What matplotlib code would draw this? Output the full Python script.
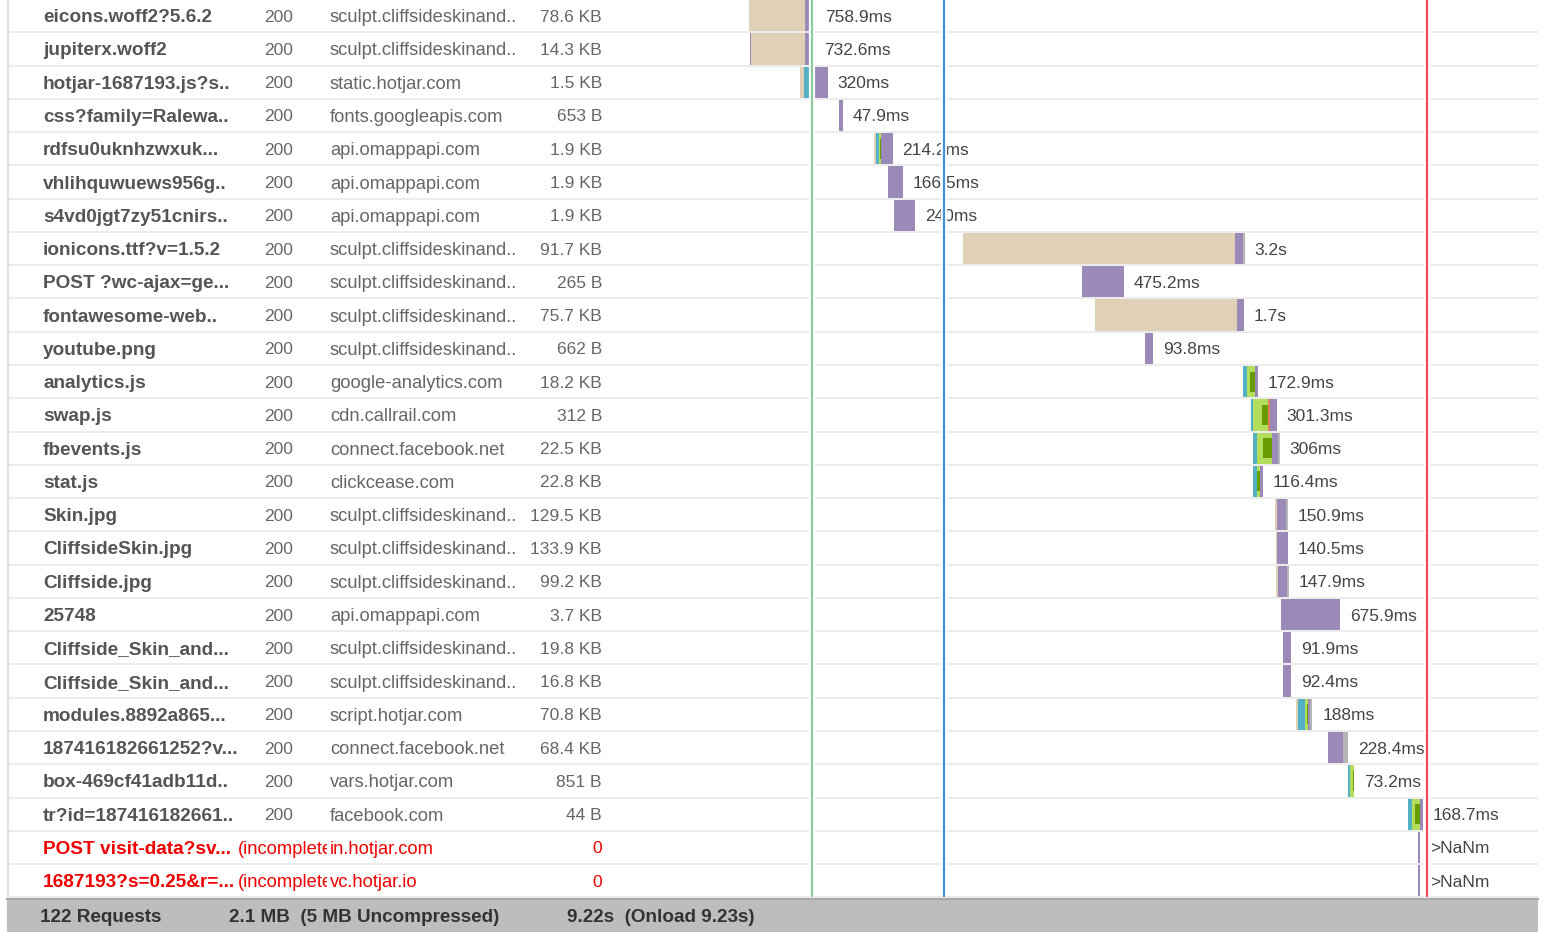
import matplotlib
matplotlib.use('Agg')
import matplotlib.pyplot as plt
from matplotlib.patches import Rectangle
from matplotlib.transforms import Bbox, TransformedBbox

plt.rcParams['font.family'] = ['Liberation Sans', 'DejaVu Sans']

# ---------------- data ----------------
names = ['eicons.woff2?5.6.2', 'jupiterx.woff2', 'hotjar-1687193.js?s..', 'css?family=Ralewa..',
         'rdfsu0uknhzwxuk...', 'vhlihquwuews956g..', 's4vd0jgt7zy51cnirs..', 'ionicons.ttf?v=1.5.2',
         'POST ?wc-ajax=ge...', 'fontawesome-web..', 'youtube.png', 'analytics.js', 'swap.js',
         'fbevents.js', 'stat.js', 'Skin.jpg', 'CliffsideSkin.jpg', 'Cliffside.jpg', '25748',
         'Cliffside_Skin_and...', 'Cliffside_Skin_and...', 'modules.8892a865...',
         '187416182661252?v...', 'box-469cf41adb11d..', 'tr?id=187416182661..',
         'POST visit-data?sv...', '1687193?s=0.25&r=...']
statuses = ['200'] * 25 + ['(incomplete', '(incomplete']
domains = ['sculpt.cliffsideskinand..', 'sculpt.cliffsideskinand..', 'static.hotjar.com',
           'fonts.googleapis.com', 'api.omappapi.com', 'api.omappapi.com', 'api.omappapi.com',
           'sculpt.cliffsideskinand..', 'sculpt.cliffsideskinand..', 'sculpt.cliffsideskinand..',
           'sculpt.cliffsideskinand..', 'google-analytics.com', 'cdn.callrail.com',
           'connect.facebook.net', 'clickcease.com', 'sculpt.cliffsideskinand..',
           'sculpt.cliffsideskinand..', 'sculpt.cliffsideskinand..', 'api.omappapi.com',
           'sculpt.cliffsideskinand..', 'sculpt.cliffsideskinand..', 'script.hotjar.com',
           'connect.facebook.net', 'vars.hotjar.com', 'facebook.com', 'in.hotjar.com', 'vc.hotjar.io']
sizes = ['78.6 KB', '14.3 KB', '1.5 KB', '653 B', '1.9 KB', '1.9 KB', '1.9 KB', '91.7 KB', '265 B',
         '75.7 KB', '662 B', '18.2 KB', '312 B', '22.5 KB', '22.8 KB', '129.5 KB', '133.9 KB',
         '99.2 KB', '3.7 KB', '19.8 KB', '16.8 KB', '70.8 KB', '68.4 KB', '851 B', '44 B', '0', '0']
incomplete = [False] * 25 + [True, True]
timing_labels = ['758.9ms', '732.6ms', '320ms', '47.9ms', '214.2ms', '166.5ms', '240ms', '3.2s',
                 '475.2ms', '1.7s', '93.8ms', '172.9ms', '301.3ms', '306ms', '116.4ms', '150.9ms',
                 '140.5ms', '147.9ms', '675.9ms', '91.9ms', '92.4ms', '188ms', '228.4ms', '73.2ms',
                 '168.7ms', '>NaNm', '>NaNm']

# request start times (ms) and phase durations (ms)
start_ms = [1495, 1507, 2078, 2523, 2922, 3082, 3151, 3938, 5297, 5445, 6016, 7135, 7223, 7249,
            7249, 7500, 7508, 7508, 7568, 7591, 7591, 7740, 8105, 8333, 9018, 9132, 9132]
lead_ms = [0, 15, 0, 0, 0, 0, 0, 0, 0, 0, 0, 0, 0, 0, 0, 0, 0, 0, 0, 0, 0, 0, 0, 0, 0, 0, 0]
blocked_ms = [645, 607, 46, 0, 23, 0, 0, 3105, 0, 1621, 0, 0, 0, 0, 0, 19, 15, 23, 0, 0, 0, 23,
              0, 0, 0, 0, 0]
dns_ms = [0, 0, 80, 0, 31, 0, 0, 0, 0, 0, 0, 46, 26, 46, 46, 0, 0, 0, 0, 0, 0, 85, 0, 23, 46, 0, 0]
connect_ms = [0, 0, 0, 0, 30, 0, 0, 0, 0, 0, 0, 91, 171, 169, 34, 0, 0, 0, 0, 0, 0, 34, 0, 50, 91,
              0, 0]
ssl_ms = [0, 0, 0, 0, 15, 0, 0, 0, 0, 0, 0, 57, 68, 103, 30, 0, 0, 0, 0, 0, 0, 11, 0, 11, 57, 0, 0]
send_ms = [0, 0, 45, 0, 0, 0, 0, 0, 0, 0, 0, 0, 23, 0, 0, 0, 0, 0, 0, 0, 0, 0, 0, 0, 0, 0, 0]
wait_ms = [68, 110, 149, 47.9, 130, 166.5, 240, 95, 475.2, 80, 93.8, 36, 81, 68, 36, 110, 125.5,
           110, 675.9, 91.9, 92.4, 23, 171, 0, 32, 23, 23]
receive_ms = [46, 0, 0, 0, 0, 0, 0, 19, 0, 0, 0, 0, 0, 23, 0, 22, 0, 15, 0, 0, 0, 23, 57, 0, 0, 0, 0]

marker_ms = [2215, 3721, 9230]            # start render, DOMContentLoaded, onload
marker_colors = ['#8ec9a2', '#3b95dc', '#f04a58']

footer_texts = ['122 Requests', '2.1 MB  (5 MB Uncompressed)', '9.22s  (Onload 9.23s)']

# ---------------- layout ----------------
W, H = 1543, 932
T0_PX, PX_PER_MS = 618.0, 0.0876
ROW0_PX, ROW_PX = 15.67, 33.27
n = len(names)

fig = plt.figure(figsize=(W / 100, H / 100), dpi=100)
fig.patch.set_facecolor('white')

y_top = -ROW0_PX / ROW_PX
y_bot = (H - ROW0_PX) / ROW_PX

# table axis (x in pixels)
tab = fig.add_axes([0, 0, 1, 1])
tab.set_xlim(0, W)
tab.set_ylim(y_bot, y_top)
tab.axis('off')
tab.set_zorder(0)

# waterfall axis (x in ms)
ax = fig.add_axes([0, 0, 1, 1])
ax.set_xlim(-T0_PX / PX_PER_MS, (W - T0_PX) / PX_PER_MS)
ax.set_ylim(y_bot, y_top)
ax.axis('off')
ax.patch.set_alpha(0)
ax.set_zorder(1)

# row separators
for k in range(n):
    tab.plot([8, 1538], [k + 0.5, k + 0.5], color='#ececec', lw=1.5, solid_capstyle='butt', zorder=1)
tab.plot([8, 8], [y_top, n - 0.5], color='#dcdcdc', lw=1.2, zorder=1)

# table text
FS = 12.5
for k in range(n):
    red = incomplete[k]
    c_name = '#f00000' if red else '#555555'
    c_txt = '#f00000' if red else '#666666'
    tab.text(43, k, names[k], fontsize=13.7, fontweight='bold', color=c_name,
             va='center_baseline', ha='left', zorder=3)
    t = tab.text(264 if not red else 238, k, statuses[k], fontsize=FS if not red else 13.2,
                 color=c_txt, va='center_baseline', ha='left', zorder=3)
    if red:
        t.set_clip_box(TransformedBbox(Bbox.from_extents(230, k - 0.5, 327, k + 0.5), tab.transData))
        t.set_clip_on(True)
    tab.text(330, k, domains[k], fontsize=13.2, color=c_txt, va='center_baseline', ha='left', zorder=3)
    tab.text(602, k, sizes[k], fontsize=FS, color=c_txt, va='center_baseline', ha='right', zorder=3)

# footer
tab.add_patch(Rectangle((7, n - 0.46), 1531, 3, facecolor='#bdbdbd', edgecolor='none', zorder=2))
tab.plot([7, 1538], [n - 0.46, n - 0.46], color='#a9a9a9', lw=1.5, zorder=3)
for xp, s in zip([40, 229, 567], footer_texts):
    tab.text(xp, n + 0.04, s, fontsize=13.6, fontweight='bold', color='#333333',
             va='center_baseline', ha='left', zorder=4)

# waterfall bars
phase_list = [('lead', lead_ms, '#9b8ab8'), ('blocked', blocked_ms, '#e0d0b7'),
              ('dns', dns_ms, '#52b2c4'), ('connect', connect_ms, '#b3de5c'),
              ('send', send_ms, '#e27e62'), ('wait', wait_ms, '#9b8ab8'),
              ('receive', receive_ms, '#b6b6b6')]
BAR_H = 0.94
for k in range(n):
    left = start_ms[k]
    connect_end = None
    for pname, vals, col in phase_list:
        d = vals[k]
        if d > 0:
            ax.barh(k, d, left=left, height=BAR_H, color=col, edgecolor='none', zorder=2)
        left += d
        if pname == 'connect':
            connect_end = left
    if ssl_ms[k] > 0:
        ax.barh(k, ssl_ms[k], left=connect_end - ssl_ms[k], height=0.6, color='#689a02',
                edgecolor='none', zorder=3)
    ax.annotate(timing_labels[k], xy=(left, k), xytext=(7.0, 0), textcoords='offset points',
                fontsize=FS, color='#444444', va='center_baseline', ha='left', zorder=4)

# timing markers with white halo
for m, c in zip(marker_ms, marker_colors):
    ax.vlines(m, y_top, n - 0.5, color='white', lw=4.5, zorder=5)
    ax.vlines(m, y_top, n - 0.5, color=c, lw=1.6, zorder=6)

fig.savefig('out.png', dpi=100, facecolor='white')
